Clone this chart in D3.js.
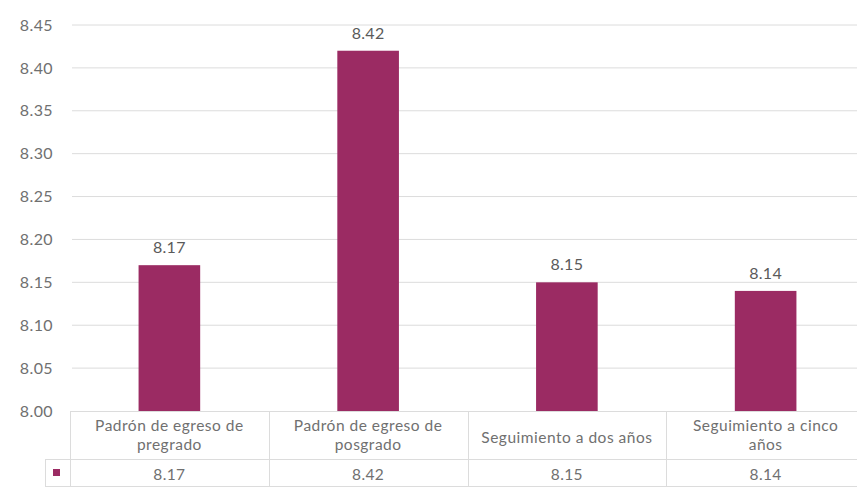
<!DOCTYPE html>
<html><head><meta charset="utf-8">
<script src="https://cdn.jsdelivr.net/npm/d3@7/dist/d3.min.js"></script>
<style>body{margin:0;background:#fff}svg{display:block}text{font-family:Lato,"Open Sans",sans-serif}</style>
</head><body>
<script>
const categories = [["Padrón de egreso de","pregrado"],["Padrón de egreso de","posgrado"],["Seguimiento a dos años"],["Seguimiento a cinco","años"]];
const values = [8.17, 8.42, 8.15, 8.14];
const yTicks = [8.00, 8.05, 8.10, 8.15, 8.20, 8.25, 8.30, 8.35, 8.40, 8.45];

const W = 857, H = 487;
const plotLeft = 70, plotRight = 865, plotTop = 25, base = 411, rowSep = 459, tableBottom = 486, legendLeft = 45;
const barColor = "#9b2b63", gridColor = "#dcdcdc", textColor = "#707070";

const svg = d3.select("body").append("svg").attr("width", W).attr("height", H);
const x = d3.scaleBand().domain(d3.range(categories.length)).range([plotLeft, plotRight]).paddingInner(0).paddingOuter(0);
const y = d3.scaleLinear().domain([8.00, 8.45]).range([base, plotTop]);
const barW = x.bandwidth() * 0.31;

// gridlines
svg.append("g").selectAll("line").data(yTicks.filter(t => t > 8.0)).join("line")
  .attr("x1", plotLeft + 2).attr("x2", W).attr("y1", d => y(d)).attr("y2", d => y(d))
  .attr("stroke", gridColor).attr("stroke-width", 1);

// y axis labels
const yAxis = d3.axisLeft(y).tickValues(yTicks).tickFormat(d3.format(".2f")).tickSize(0).tickPadding(17);
const ga = svg.append("g").attr("transform", `translate(${plotLeft},0)`).call(yAxis);
ga.select(".domain").remove();
ga.selectAll("text").attr("fill", textColor).attr("font-size", 16).attr("letter-spacing", 0.4).attr("font-family", "Lato, sans-serif");

// bars
svg.append("g").selectAll("rect").data(values).join("rect")
  .attr("x", (d, i) => x(i) + x.bandwidth() / 2 - barW / 2)
  .attr("width", barW)
  .attr("y", d => y(d)).attr("height", d => base - y(d))
  .attr("fill", barColor);

// value labels
svg.append("g").selectAll("text").data(values).join("text")
  .attr("x", (d, i) => x(i) + x.bandwidth() / 2)
  .attr("y", d => y(d) - 12)
  .attr("text-anchor", "middle").attr("font-size", 16).attr("letter-spacing", 0.3).attr("fill", "#5a5a5a")
  .text(d => d.toFixed(2));

// data table
const t = svg.append("g").attr("stroke", gridColor).attr("stroke-width", 1).attr("shape-rendering", "crispEdges");
t.append("line").attr("x1", plotLeft).attr("x2", W).attr("y1", base + 0.5).attr("y2", base + 0.5);
t.append("line").attr("x1", legendLeft).attr("x2", W).attr("y1", rowSep + 0.5).attr("y2", rowSep + 0.5);
t.append("line").attr("x1", legendLeft).attr("x2", W).attr("y1", tableBottom).attr("y2", tableBottom);
t.append("line").attr("x1", legendLeft + 0.5).attr("x2", legendLeft + 0.5).attr("y1", rowSep).attr("y2", tableBottom);
t.selectAll(".v").data(d3.range(categories.length)).join("line").attr("class", "v")
  .attr("x1", i => x(i) + 0.5).attr("x2", i => x(i) + 0.5).attr("y1", base).attr("y2", tableBottom);

// category labels
const cg = svg.append("g").selectAll("text").data(categories).join("text")
  .attr("text-anchor", "middle").attr("font-size", 15.5).attr("letter-spacing", 0.5).attr("fill", textColor)
  .attr("transform", (d, i) => `translate(${x(i) + x.bandwidth() / 2},${d.length === 1 ? 443 : 431})`);
cg.selectAll("tspan").data(d => d).join("tspan")
  .attr("x", 0).attr("dy", (d, j) => j === 0 ? 0 : 19).text(d => d);

// value row
svg.append("g").selectAll("text").data(values).join("text")
  .attr("x", (d, i) => x(i) + x.bandwidth() / 2).attr("y", 480)
  .attr("text-anchor", "middle").attr("font-size", 15.5).attr("letter-spacing", 0.4).attr("fill", textColor)
  .text(d => d.toFixed(2));

// legend key
svg.append("rect").attr("x", 53).attr("y", 469).attr("width", 7).attr("height", 7).attr("fill", barColor);
</script>
</body></html>
